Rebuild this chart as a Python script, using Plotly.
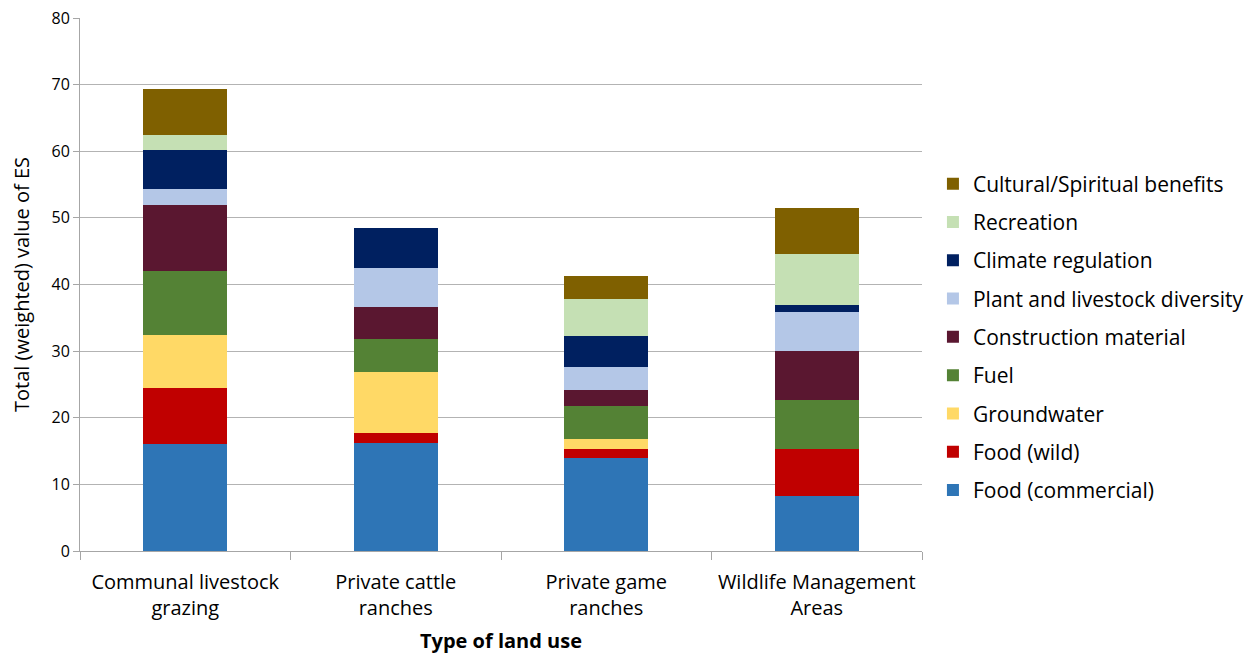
import plotly.graph_objects as go

categories = ["Communal livestock<br>grazing", "Private cattle<br>ranches",
              "Private game<br>ranches", "Wildlife Management<br>Areas"]

series_names = ["Food (commercial)", "Food (wild)", "Groundwater", "Fuel",
                "Construction material", "Plant and livestock diversity",
                "Climate regulation", "Recreation", "Cultural/Spiritual benefits"]

food_commercial = [16.0, 16.25, 13.9, 8.2]
food_wild = [8.5, 1.4, 1.4, 7.1]
groundwater = [7.9, 9.15, 1.45, 0.0]
fuel = [9.7, 4.95, 4.95, 7.35]
construction = [9.9, 4.9, 2.4, 7.35]
plant_diversity = [2.3, 5.85, 3.5, 5.85]
climate = [5.9, 5.95, 4.7, 1.1]
recreation = [2.3, 0.0, 5.5, 7.65]
cultural = [6.9, 0.0, 3.45, 6.85]

values = [food_commercial, food_wild, groundwater, fuel, construction,
          plant_diversity, climate, recreation, cultural]
colors = ["#2E75B6", "#C00000", "#FFD966", "#548235", "#5A1730",
          "#B4C7E7", "#002060", "#C5E0B4", "#7F6000"]

FONT = "Open Sans"

fig = go.Figure()
for i, (name, vals, col) in enumerate(zip(series_names, values, colors)):
    fig.add_trace(go.Bar(
        x=categories, y=vals, name=name,
        marker=dict(color=col, line=dict(width=0)),
        legendgroup="g%d" % i,
        legendrank=1000 - i,
    ))

fig.update_layout(
    barmode="stack",
    bargap=0.6,
    width=1244, height=646,
    margin=dict(l=72, r=330, t=10, b=103, autoexpand=False),
    paper_bgcolor="white", plot_bgcolor="white",
    font=dict(family=FONT, size=17, color="#000000"),
    legend=dict(
        x=1.013, xanchor="left", y=0.4015, yanchor="middle",
        traceorder="grouped", tracegroupgap=8,
        font=dict(family=FONT, size=21, color="#000000"),
        itemwidth=30,
    ),
    showlegend=True,
)

fig.update_xaxes(
    showline=True, linecolor="#a6a6a6", linewidth=1,
    ticks="outside", tickson="boundaries", ticklen=8, tickcolor="#a6a6a6",
    ticklabelstandoff=13, tickangle=0,
    tickfont=dict(family=FONT, size=20, color="#000000"),
    title=dict(text="<b>Type of land use</b>", font=dict(family=FONT, size=20, color="#000000"), standoff=20),
    showgrid=False, automargin=False,
)
fig.update_yaxes(
    range=[0, 80], dtick=10,
    showline=True, linecolor="#a6a6a6", linewidth=1,
    ticks="outside", ticklen=6, tickcolor="#a6a6a6",
    ticklabeloverflow="allow",
    showgrid=True, gridcolor="#b3b3b3", gridwidth=1,
    tickfont=dict(family=FONT, size=16, color="#000000"),
    title=dict(text="Total (weighted) value of ES", font=dict(family=FONT, size=20, color="#000000"), standoff=17),
    zeroline=False, automargin=False,
)

fig.write_html("out.html")
